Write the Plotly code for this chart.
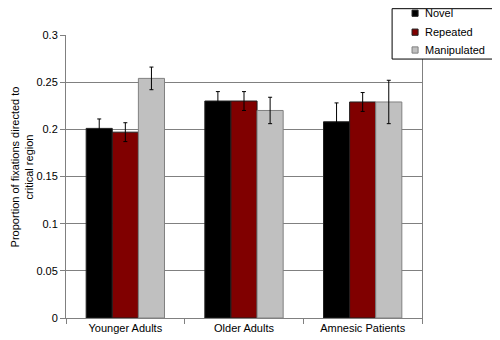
import plotly.graph_objects as go

categories = ["Younger Adults", "Older Adults", "Amnesic Patients"]
series_names = ["Novel", "Repeated", "Manipulated"]
novel = [0.201, 0.230, 0.208]
repeated = [0.197, 0.230, 0.229]
manipulated = [0.254, 0.220, 0.229]
novel_err = [0.010, 0.010, 0.020]
repeated_err = [0.010, 0.010, 0.010]
manipulated_err = [0.012, 0.014, 0.023]
colors = ["#000000", "#800000", "#c0c0c0"]
line_colors = ["#202020", "#202020", "#808080"]
y_ticks = [0, 0.05, 0.1, 0.15, 0.2, 0.25, 0.3]
y_tick_labels = ["0", "0.05", "0.1", "0.15", "0.2", "0.25", "0.3"]
y_title = "Proportion of fixations directed to<br>critical region"

fig = go.Figure()
for name, vals, errs, c, lc in zip(series_names, [novel, repeated, manipulated],
                                    [novel_err, repeated_err, manipulated_err], colors, line_colors):
    fig.add_trace(go.Bar(
        x=categories, y=vals, name=name, showlegend=False,
        marker=dict(color=c, line=dict(color=lc, width=1)),
        error_y=dict(type="data", array=errs, color="#000000", thickness=1, width=2),
    ))

# Custom legend box (paper coordinates relative to the plot area)
LEG_X0, LEG_X1, LEG_Y0, LEG_Y1 = 0.916, 1.208, 0.915, 1.093
SYM_X0, SYM_X1, TXT_X = 0.972, 0.989, 1.003
ITEM_Y = [1.077, 1.010, 0.947]
SYM_H = 0.011
shapes = [dict(type="rect", xref="paper", yref="paper", x0=LEG_X0, x1=LEG_X1,
               y0=LEG_Y0, y1=LEG_Y1, line=dict(color="#000000", width=1),
               fillcolor="white", layer="above")]
annotations = []
for name, c, lc, yy in zip(series_names, colors, line_colors, ITEM_Y):
    shapes.append(dict(type="rect", xref="paper", yref="paper", x0=SYM_X0, x1=SYM_X1,
                       y0=yy - SYM_H, y1=yy + SYM_H, line=dict(color=lc, width=1),
                       fillcolor=c, layer="above"))
    annotations.append(dict(text=name, xref="paper", yref="paper", x=TXT_X, y=yy,
                            xanchor="left", yanchor="middle", showarrow=False,
                            font=dict(size=11, color="#000000")))
annotations.append(dict(text=y_title, xref="paper", yref="paper", x=-0.125, y=0.534,
                        xanchor="center", yanchor="middle", textangle=-90, showarrow=False,
                        font=dict(size=11, color="#000000")))

fig.update_layout(
    width=500, height=340,
    margin=dict(l=58, r=86, t=27, b=30, autoexpand=False),
    paper_bgcolor="white", plot_bgcolor="white",
    font=dict(family="Liberation Sans, Arial, sans-serif", size=11, color="#000000"),
    barmode="group", bargap=0.34, bargroupgap=0,
    shapes=shapes, annotations=annotations,
    xaxis=dict(showline=True, linecolor="#808080", linewidth=1,
               ticks="outside", tickson="boundaries", ticklen=5, tickcolor="#808080",
               showgrid=False, tickfont=dict(size=11)),
    yaxis=dict(range=[0, 0.3], tickvals=y_ticks, ticktext=y_tick_labels,
               showline=True, linecolor="#808080", linewidth=1, mirror=True,
               ticks="outside", ticklen=5, tickcolor="#808080",
               showgrid=True, gridcolor="#808080", gridwidth=1,
               zeroline=False, tickfont=dict(size=11)),
)

fig.write_html("out.html")
